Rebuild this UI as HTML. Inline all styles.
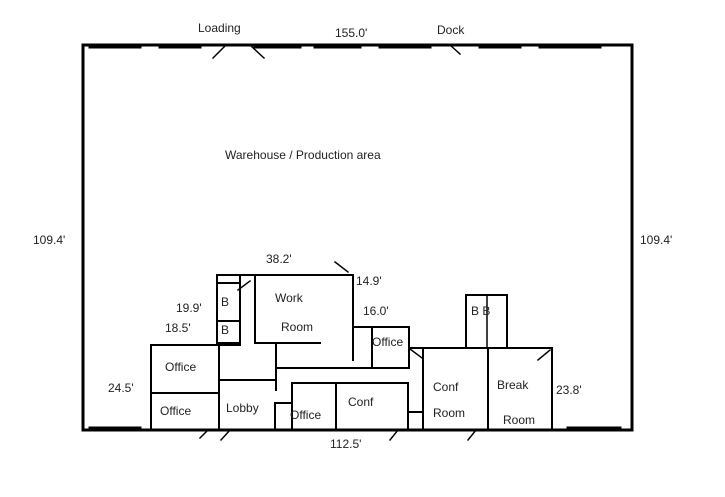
<!DOCTYPE html>
<html><head><style>body{margin:0;background:#fff}svg{display:block}text{font-family:"Liberation Sans",sans-serif;font-size:12px;fill:#222}</style></head><body>
<svg width="725" height="497" viewBox="0 0 725 497" xmlns="http://www.w3.org/2000/svg">
<g stroke="#000" fill="none" stroke-linecap="square">
<rect x="83" y="45" width="549" height="385" stroke-width="3"/>
<g stroke-width="3">
<line x1="90" y1="47" x2="140" y2="47"/><line x1="160" y1="47" x2="200" y2="47"/><line x1="255" y1="47" x2="300" y2="47"/><line x1="315" y1="47" x2="360" y2="47"/><line x1="380" y1="47" x2="430" y2="47"/><line x1="480" y1="47" x2="520" y2="47"/><line x1="540" y1="47" x2="600" y2="47"/>
<line x1="90" y1="428" x2="140" y2="428"/><line x1="568" y1="428" x2="620" y2="428"/>
</g>
<g stroke-width="1.5">
<line x1="213" y1="58" x2="226" y2="45"/><line x1="250" y1="45" x2="264" y2="58"/><line x1="450" y1="45" x2="460" y2="54"/>
<line x1="200" y1="438" x2="208" y2="430"/><line x1="221" y1="440" x2="230" y2="430"/><line x1="390" y1="440" x2="398" y2="430"/><line x1="468" y1="440" x2="476" y2="430"/>
<line x1="335" y1="262" x2="348" y2="272"/><line x1="238" y1="290" x2="250" y2="281"/>
<line x1="538" y1="360" x2="550" y2="350"/><line x1="410" y1="349" x2="422" y2="358"/>
</g>
<g stroke-width="2">
<line x1="217" y1="275" x2="353" y2="275"/>
<rect x="217" y="275" width="23" height="68"/>
<line x1="217" y1="283" x2="240" y2="283"/><line x1="217" y1="321" x2="240" y2="321"/>
<line x1="255" y1="275" x2="255" y2="343"/><line x1="255" y1="343" x2="320" y2="343"/>
<line x1="353" y1="275" x2="353" y2="360"/>
<line x1="353" y1="327" x2="409" y2="327"/>
<rect x="372" y="327" width="37" height="41"/>
<line x1="276" y1="368" x2="409" y2="368"/>
<line x1="276" y1="345" x2="276" y2="390"/>
<rect x="151" y="345" width="68" height="85"/>
<line x1="151" y1="393" x2="219" y2="393"/>
<line x1="219" y1="380" x2="276" y2="380"/>
<line x1="219" y1="345" x2="240" y2="345"/>
<rect x="292" y="383" width="116" height="47"/>
<line x1="336" y1="383" x2="336" y2="430"/>
<polyline points="275,430 275,403 292,403"/>
<line x1="408" y1="412" x2="423" y2="412"/>
<line x1="409" y1="348" x2="423" y2="348"/>
<rect x="423" y="348" width="129" height="82"/>
<line x1="488" y1="348" x2="488" y2="430"/>
<rect x="466" y="295" width="41" height="53"/>
<line x1="487" y1="295" x2="487" y2="348" stroke-width="1.5"/>
</g>
</g>
<text x="198" y="32">Loading</text><text x="335" y="37">155.0'</text><text x="437" y="34">Dock</text>
<text x="225" y="159">Warehouse / Production area</text>
<text x="33" y="244">109.4'</text><text x="640" y="244">109.4'</text>
<text x="266" y="263">38.2'</text><text x="356" y="285">14.9'</text><text x="363" y="315">16.0'</text>
<text x="176" y="312">19.9'</text><text x="165" y="332">18.5'</text>
<text x="221" y="306">B</text><text x="221" y="334">B</text>
<text x="275" y="302">Work</text><text x="281" y="331">Room</text>
<text x="372" y="346">Office</text>
<text x="165" y="371">Office</text><text x="160" y="415">Office</text><text x="226" y="412">Lobby</text>
<text x="290" y="419">Office</text><text x="348" y="406">Conf</text>
<text x="330" y="448">112.5'</text><text x="108" y="392">24.5'</text>
<text x="433" y="391">Conf</text><text x="433" y="417">Room</text>
<text x="497" y="389">Break</text><text x="503" y="424">Room</text>
<text x="556" y="394">23.8'</text><text x="471" y="315">B B</text>
</svg>
</body></html>
